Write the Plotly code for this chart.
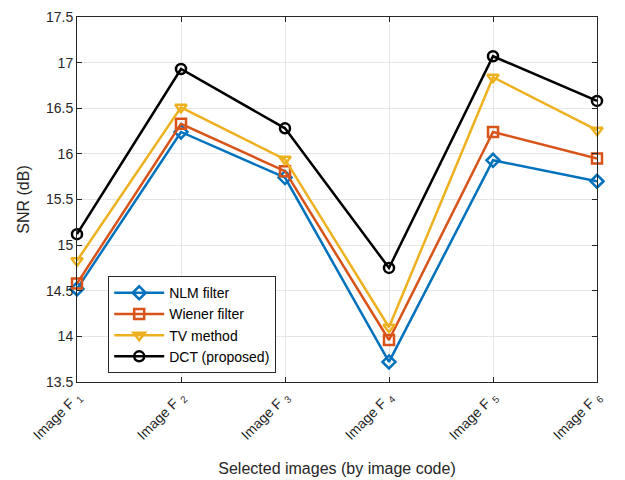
import plotly.graph_objects as go

images = ["Image F <sub>1</sub>", "Image F <sub>2</sub>", "Image F <sub>3</sub>",
          "Image F <sub>4</sub>", "Image F <sub>5</sub>", "Image F <sub>6</sub>"]
nlm_filter = [14.52, 16.24, 15.74, 13.72, 15.93, 15.70]
wiener_filter = [14.58, 16.33, 15.81, 13.96, 16.24, 15.95]
tv_method = [14.83, 16.51, 15.94, 14.10, 16.84, 16.26]
dct_proposed = [15.12, 16.93, 16.28, 14.75, 17.07, 16.58]

series = [
    ("NLM filter", nlm_filter, "#0072BD", "diamond-open"),
    ("Wiener filter", wiener_filter, "#D95319", "square-open"),
    ("TV method", tv_method, "#EDB120", "triangle-down-open"),
    ("DCT (proposed)", dct_proposed, "#000000", "circle-open"),
]

fig = go.Figure()
for name, values, color, symbol in series:
    fig.add_trace(go.Scatter(
        x=list(range(len(images))), y=values, name=name, mode="lines+markers",
        line=dict(color=color, width=2.5), cliponaxis=False,
        marker=dict(symbol=symbol, size=10, color=color, line=dict(width=2.5, color=color)),
    ))

axis_style = dict(
    showline=True, linecolor="#262626", linewidth=1, mirror="ticks",
    ticks="inside", ticklen=5, tickcolor="#262626",
    showgrid=True, gridcolor="#E6E6E6", gridwidth=1, zeroline=False,
    tickfont=dict(size=14, color="#262626"), automargin=False,
)

fig.update_xaxes(
    **axis_style, tickmode="array", tickvals=list(range(len(images))), ticktext=images,
    tickangle=-45, range=[0, len(images) - 1],
    title=dict(text="Selected images (by image code)", font=dict(size=16, color="#262626"), standoff=19),
)
fig.update_yaxes(
    **axis_style, range=[13.5, 17.5], dtick=0.5, tickformat="~g",
    title=dict(text="SNR (dB)", font=dict(size=16, color="#262626"), standoff=12),
)

# page body has an 8px margin, so the plot box is shifted back by that much
fig.update_layout(
    width=625, height=480,
    margin=dict(l=69, r=36, t=9, b=106),
    paper_bgcolor="white", plot_bgcolor="white",
    font=dict(family="Liberation Sans, Arial, sans-serif", color="#262626"),
    legend=dict(
        x=0.06, y=0.29, xanchor="left", yanchor="top",
        bgcolor="white", bordercolor="#262626", borderwidth=1,
        font=dict(size=14, color="#000000"), tracegroupgap=0, itemwidth=50,
    ),
)

fig.write_html("out.html")
